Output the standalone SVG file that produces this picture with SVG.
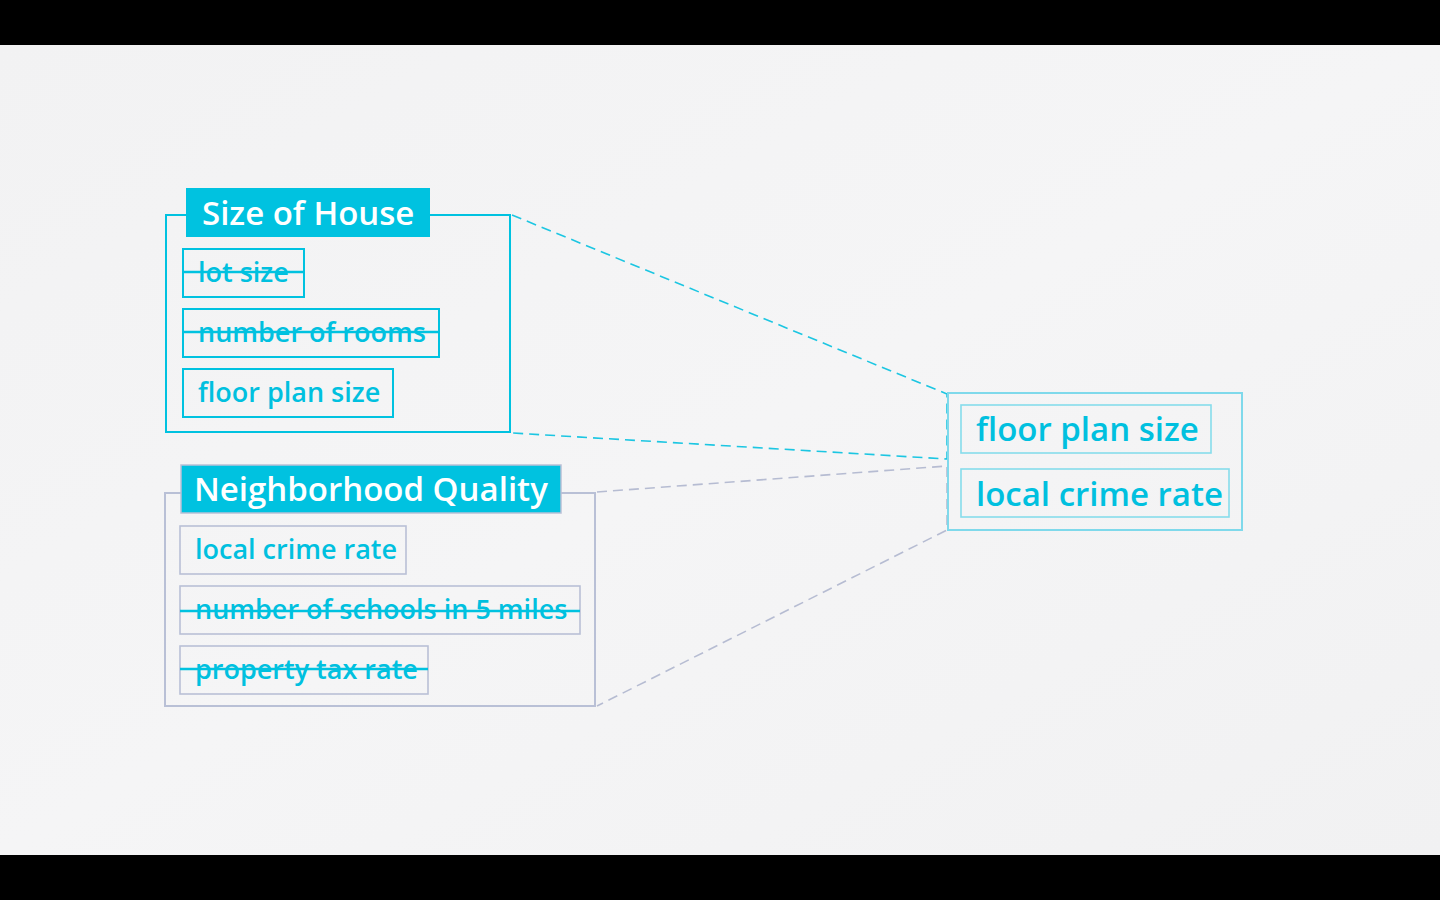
<svg xmlns="http://www.w3.org/2000/svg" width="1440" height="900" viewBox="0 0 1440 900">
  <defs>
    <linearGradient id="bg" x1="0" y1="0" x2="1" y2="1">
      <stop offset="0" stop-color="#f2f2f3"/>
      <stop offset="0.5" stop-color="#f5f5f6"/>
      <stop offset="1" stop-color="#f1f1f2"/>
    </linearGradient>
    <style>
      .txt { font-family: "Open Sans", "Liberation Sans", sans-serif; font-weight: 600; fill: #00c0df; }
      .title { font-family: "Open Sans", "Liberation Sans", sans-serif; font-weight: 600; fill: #ffffff; }
      .title-bg { fill: #00c2e0; }
      .frame-cyan { fill: none; stroke: #00c2e0; stroke-width: 2; }
      .frame-gray { fill: none; stroke: #b9c0d6; stroke-width: 2; }
      .item-cyan { fill: none; stroke: #00c2e0; stroke-width: 2; }
      .item-gray { fill: none; stroke: #b9c0d6; stroke-width: 1.6; }
      .item-light { fill: none; stroke: #86dcec; stroke-width: 1.6; }
      .frame-light { fill: none; stroke: #7fd9eb; stroke-width: 2; }
      .strike { stroke: #00c2e0; stroke-width: 2.5; }
      .link-cyan { fill: none; stroke: #1cc6e2; stroke-width: 1.6; stroke-dasharray: 10 6; }
      .link-gray { fill: none; stroke: #b6bcd2; stroke-width: 1.6; stroke-dasharray: 10 6; }
    </style>
  </defs>

  <!-- letterbox bars and backdrop -->
  <rect x="0" y="0" width="1440" height="900" fill="#000"/>
  <rect x="0" y="45" width="1440" height="810" fill="url(#bg)"/>

  <!-- connectors -->
  <g id="connectors">
    <polyline class="link-cyan" points="512,215 947,394 947,459 512,433"/>
    <polyline class="link-gray" points="597,492 947,466 947,530 597,706"/>
  </g>

  <!-- Size of House -->
  <g id="size-of-house">
    <rect class="frame-cyan" x="166" y="215" width="344" height="217"/>
    <rect class="title-bg" x="186" y="188" width="244" height="49"/>
    <text class="title" x="202" y="225" font-size="33">Size of House</text>

    <rect class="item-cyan" x="183" y="249" width="121" height="48"/>
    <text class="txt" x="198" y="282" font-size="27">lot size</text>
    <line class="strike" x1="183" y1="272" x2="304" y2="272"/>

    <rect class="item-cyan" x="183" y="309" width="256" height="48"/>
    <text class="txt" x="198" y="342" font-size="27">number of rooms</text>
    <line class="strike" x1="183" y1="332" x2="439" y2="332"/>

    <rect class="item-cyan" x="183" y="369" width="210" height="48"/>
    <text class="txt" x="198" y="402" font-size="27">floor plan size</text>
  </g>

  <!-- Neighborhood Quality -->
  <g id="neighborhood-quality">
    <rect class="frame-gray" x="165" y="493" width="430" height="213"/>
    <rect class="title-bg" x="181" y="465" width="380" height="48" stroke="#b9c0d6" stroke-width="1.5"/>
    <text class="title" x="194" y="501" font-size="33">Neighborhood Quality</text>

    <rect class="item-gray" x="180" y="526" width="226" height="48"/>
    <text class="txt" x="195" y="559" font-size="27">local crime rate</text>

    <rect class="item-gray" x="180" y="586" width="400" height="48"/>
    <text class="txt" x="195" y="619" font-size="27">number of schools in 5 miles</text>
    <line class="strike" x1="180" y1="611" x2="580" y2="611"/>

    <rect class="item-gray" x="180" y="646" width="248" height="48"/>
    <text class="txt" x="195" y="679" font-size="27">property tax rate</text>
    <line class="strike" x1="180" y1="669" x2="428" y2="669"/>
  </g>

  <!-- Selected features -->
  <g id="selected-features">
    <rect class="frame-light" x="948" y="393" width="294" height="137"/>
    <rect class="item-light" x="961" y="405" width="250" height="48"/>
    <text class="txt" x="976" y="441" font-size="33">floor plan size</text>
    <rect class="item-light" x="961" y="469" width="268" height="48"/>
    <text class="txt" x="976" y="506" font-size="33">local crime rate</text>
  </g>
</svg>
